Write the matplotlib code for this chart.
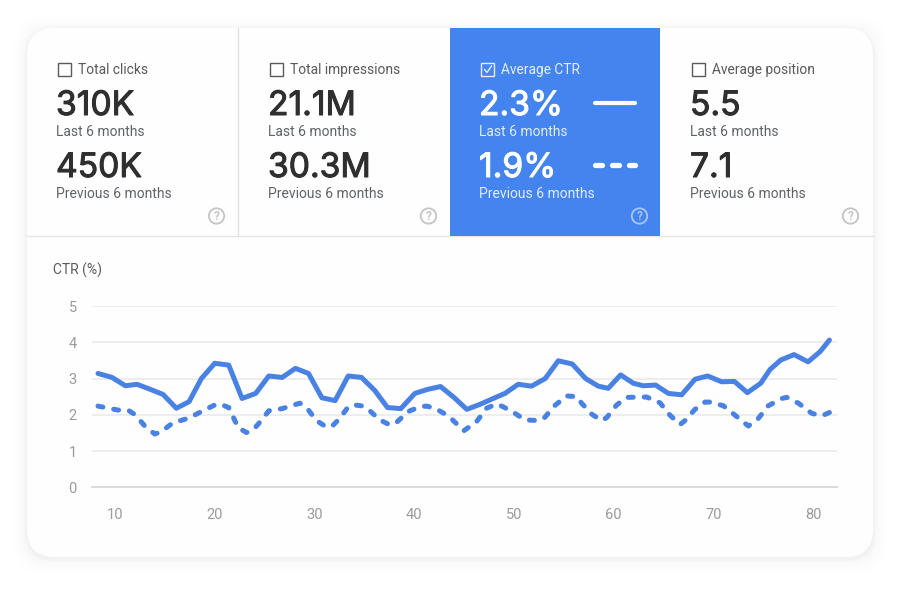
import matplotlib
matplotlib.use("Agg")
import matplotlib.pyplot as plt
import matplotlib.patheffects as pe
from matplotlib.patches import FancyBboxPatch, Rectangle, Circle

plt.rcParams['font.family'] = ['Roboto', 'DejaVu Sans']

W, H = 900, 591

# ---- data ----
metric_titles = ["Total clicks", "Total impressions", "Average CTR", "Average position"]
last_values = ["310K", "21.1M", "2.3%", "5.5"]
prev_values = ["450K", "30.3M", "1.9%", "7.1"]
last_label = "Last 6 months"
prev_label = "Previous 6 months"
y_ticks = [0, 1, 2, 3, 4, 5]
x_ticks = [10, 20, 30, 40, 50, 60, 70, 80]
y_title = "CTR (%)"

last_x = [8.29, 9.70, 11.04, 12.21, 13.55, 14.82, 16.15, 17.42, 18.66, 20.0, 21.4, 22.74, 24.11, 25.42,
          26.76, 28.09, 29.40, 30.74, 32.07, 33.38, 34.72, 36.05, 37.32, 38.66, 40.07, 41.34, 42.64,
          43.98, 45.28, 46.62, 47.93, 49.10, 50.43, 51.77, 53.14, 54.45, 55.85, 57.19, 58.46, 59.46,
          60.70, 61.97, 62.98, 64.21, 65.48, 66.82, 68.16, 69.43, 70.83, 72.11, 73.41, 74.75, 75.69,
          76.76, 78.09, 79.50, 80.70, 81.64]
last_y = [3.14, 3.03, 2.80, 2.84, 2.70, 2.56, 2.18, 2.36, 3.00, 3.42, 3.37, 2.45, 2.59, 3.07,
          3.03, 3.28, 3.14, 2.47, 2.39, 3.07, 3.03, 2.67, 2.20, 2.17, 2.59, 2.70, 2.78,
          2.48, 2.15, 2.29, 2.45, 2.59, 2.84, 2.79, 3.00, 3.49, 3.40, 3.00, 2.79, 2.73,
          3.10, 2.87, 2.80, 2.82, 2.59, 2.55, 2.98, 3.07, 2.91, 2.92, 2.61, 2.87, 3.25,
          3.51, 3.66, 3.46, 3.74, 4.06]

prev_x = [8.29, 10.30, 11.30, 12.07, 12.98, 13.98, 14.55, 15.82, 17.42, 18.66, 20.0, 20.5, 21.4, 22.34,
          23.18, 23.85, 24.75, 25.42, 26.76, 28.53, 29.2, 30.2, 31.04, 31.71, 32.54, 33.38, 34.05,
          34.88, 35.55, 36.55, 37.56, 38.23, 39.4, 40.57, 41.24, 42.07, 43.24, 43.58, 44.98, 46.25,
          47.26, 48.26, 48.93, 50.1, 51.1, 52.44, 53.11, 53.95, 55.28, 56.29, 56.79, 57.79, 58.8,
          59.3, 60.3, 61.3, 63.31, 64.65, 65.65, 66.66, 67.16, 68.16, 69.16, 69.67, 71.0, 72.17,
          73.51, 74.51, 75.52, 76.86, 77.36, 78.53, 79.87, 80.87, 81.7]
prev_y = [2.24, 2.13, 2.13, 1.99, 1.69, 1.47, 1.52, 1.78, 1.91, 2.09, 2.27, 2.30, 2.2, 1.65,
          1.51, 1.58, 1.87, 2.11, 2.17, 2.32, 2.2, 1.84, 1.69, 1.67, 1.90, 2.22, 2.27,
          2.24, 2.11, 1.86, 1.72, 1.79, 2.09, 2.22, 2.24, 2.18, 2.0, 1.93, 1.56, 1.81,
          2.18, 2.30, 2.22, 2.04, 1.86, 1.84, 1.93, 2.22, 2.52, 2.5, 2.32, 2.02, 1.84,
          1.92, 2.27, 2.48, 2.49, 2.33, 1.99, 1.73, 1.84, 2.15, 2.35, 2.35, 2.25, 1.99,
          1.69, 1.90, 2.25, 2.45, 2.48, 2.32, 2.04, 1.97, 2.07]

# ---- style ----
BLUE = "#4484ee"
LINE = "#4a82e4"
INK = "#2f2f2f"
SUB = "#5f6368"
GRID = "#ececec"
TICK = "#9b9b9b"
BIG_FONT = ['Inter', 'Roboto', 'DejaVu Sans']

fig = plt.figure(figsize=(W / 100, H / 100), dpi=100, facecolor="white")

# overlay in pixel coordinates
bg = fig.add_axes([0, 0, 1, 1])
bg.set_xlim(0, W)
bg.set_ylim(H, 0)
bg.axis("off")

# soft card shadow
for grow, alpha in [(14, 0.004), (11, 0.005), (8, 0.006), (5, 0.008), (3, 0.011), (1.5, 0.015)]:
    bg.add_patch(FancyBboxPatch((27 + 28 - grow, 28 + 28 - grow + 2),
                                846 - 56 + 2 * grow, 529 - 56 + 2 * grow,
                                boxstyle="round,pad=28,rounding_size=28",
                                fc="black", ec="none", alpha=alpha, zorder=1))
card = FancyBboxPatch((27 + 28, 28 + 28), 846 - 56, 529 - 56,
                      boxstyle="round,pad=28,rounding_size=28",
                      fc="#fefefe", ec="none", zorder=2)
bg.add_patch(card)

# blue selected tile
bg.add_patch(Rectangle((450, 28), 210, 208, fc=BLUE, ec="none", zorder=3))
# separators
bg.plot([27, 873], [236, 236], color="#e6e6e6", lw=1, zorder=2.5)
bg.plot([238, 238], [28, 236], color="#e2e2e2", lw=1, zorder=2.5)

tile_x = [56, 268, 479, 690]
for i, tx in enumerate(tile_x):
    sel = i == 2
    c_title = "#e6eefc" if sel else "#5a5a5a"
    c_big = "white" if sel else INK
    c_sub = "#e3ecfc" if sel else SUB
    box_c = "#e6eefc" if sel else "#5a5a5a"
    thick = [pe.withStroke(linewidth=0.75, foreground=c_big)]
    bg.add_patch(Rectangle((tx + 2, 63), 13, 13, fc="none", ec=box_c, lw=1.0, zorder=4))
    if sel:
        bg.plot([tx + 5.5, tx + 8, tx + 12.5], [69.5, 72.5, 66], color=box_c, lw=1.0, zorder=5)
    bg.text(tx + 22, 74, metric_titles[i], color=c_title, fontsize=9.9, va="baseline", ha="left", zorder=5)
    bg.text(tx, 115, last_values[i], color=c_big, fontsize=24.2, family=BIG_FONT,
            va="baseline", ha="left", zorder=5, path_effects=thick)
    bg.text(tx, 136, last_label, color=c_sub, fontsize=10, va="baseline", ha="left", zorder=5)
    bg.text(tx, 177, prev_values[i], color=c_big, fontsize=24.2, family=BIG_FONT,
            va="baseline", ha="left", zorder=5, path_effects=thick)
    bg.text(tx, 198, prev_label, color=c_sub, fontsize=10, va="baseline", ha="left", zorder=5)
    hc = "#a9c6f7" if sel else "#c4c4c4"
    bg.add_patch(Circle((tx + 160.5, 216), 7.7, fc="none", ec=hc, lw=1.3, zorder=5))
    bg.text(tx + 160.5, 216.3, "?", color=hc, fontsize=8.5, fontweight="bold",
            va="center", ha="center", zorder=5)

# legend samples in selected tile
bg.plot([595, 635], [103, 103], color="white", lw=3.0, solid_capstyle="round", zorder=5)
for a, b in [([595, 602]), ([612, 619]), ([629, 635])]:
    bg.plot([a, b], [165, 165], color="white", lw=3.8, solid_capstyle="round", zorder=5)

bg.text(53, 274.5, y_title, color="#5a5a5a", fontsize=10, va="baseline", ha="left", zorder=5)

# chart
x0, x1, y_top, y_bot = 92, 837, 306, 487.3
ax = fig.add_axes([x0 / W, 1 - y_bot / H, (x1 - x0) / W, (y_bot - y_top) / H], zorder=3)
ax.patch.set_alpha(0)
ax.set_xlim(7.69, 82.4)
ax.set_ylim(0, 5)
for s in ax.spines.values():
    s.set_visible(False)
ax.set_yticks(y_ticks)
ax.set_xticks(x_ticks)
ax.set_yticklabels([str(v) for v in y_ticks])
ax.set_xticklabels([str(v) for v in x_ticks])
ax.tick_params(axis="both", length=0, labelcolor=TICK, labelsize=10.5)
ax.tick_params(axis="y", pad=11)
ax.tick_params(axis="x", pad=15)
ax.grid(axis="y", color=GRID, lw=1.3, zorder=0)
ax.set_axisbelow(True)
ax.axhline(0, color="#d8d8d8", lw=1.3, zorder=1, clip_on=False)

ax.plot(last_x, last_y, color=LINE, lw=3.6, solid_joinstyle="round", solid_capstyle="round",
        zorder=4, clip_on=False)
ax.plot(prev_x, prev_y, color=LINE, lw=3.6, linestyle=(0, (1.0, 2.2)), dash_capstyle="round",
        dash_joinstyle="round", zorder=3, clip_on=False)

fig.savefig("out.png", dpi=100, facecolor="white")
